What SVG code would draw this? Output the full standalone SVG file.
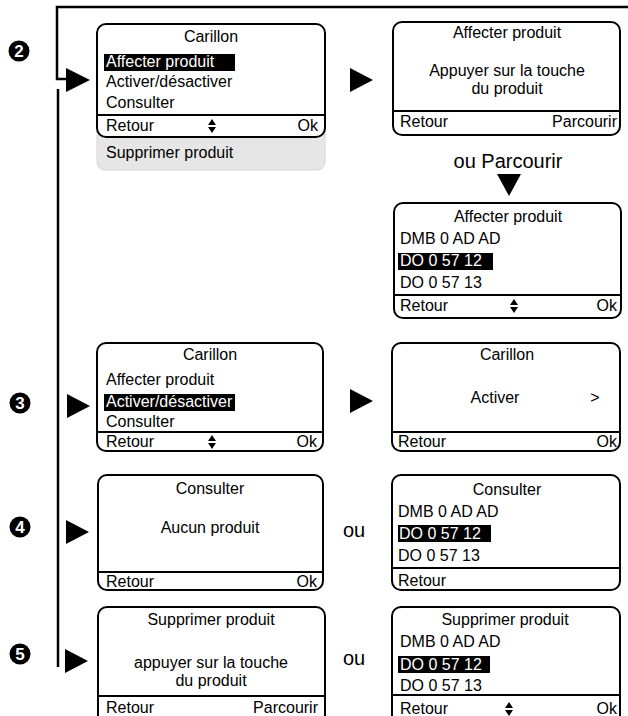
<svg xmlns="http://www.w3.org/2000/svg" width="628" height="716" viewBox="0 0 628 716">
<style>
text{font-family:"Liberation Sans",Arial,sans-serif;font-size:16px;fill:#000}
.c{text-anchor:middle}
.e{text-anchor:end}
.w{fill:#fff}
.box{fill:#fff;stroke:#000;stroke-width:2}
.sep{stroke:#000;stroke-width:2}
.hl{fill:#000}
.tri{fill:#000}
.num{font-size:17px;font-weight:bold;fill:#fff;text-anchor:middle}
.ou{font-size:20px}
.con{fill:none;stroke:#000;stroke-width:2.5}
</style>
<defs>
<g id="ud"><polygon points="-4,-1 4,-1 0,-7"/><polygon points="-4,1 4,1 0,7"/></g>
</defs>

<g id="connectors">
<path class="con" d="M67,79 H57 V7 H628"/>
<line class="con" x1="58" y1="89" x2="58" y2="667"/>
<polygon class="tri" points="66,68 90,80 66,92"/>
<polygon class="tri" points="350,68 373,80 350,92"/>
<polygon class="tri" points="497,174 521,174 509,196"/>
<polygon class="tri" points="67,394 90,406 67,418"/>
<polygon class="tri" points="350,389 373,401 350,413"/>
<polygon class="tri" points="66,520 89,532 66,544"/>
<polygon class="tri" points="65,649 88,661 65,673"/>
</g>

<g id="num2"><circle cx="19" cy="51" r="10.5"/><text class="num" x="19" y="57">2</text></g>
<g id="num3"><circle cx="20" cy="403" r="10.5"/><text class="num" x="20" y="409">3</text></g>
<g id="num4"><circle cx="20" cy="527" r="10.5"/><text class="num" x="20" y="533">4</text></g>
<g id="num5"><circle cx="20" cy="654" r="10.5"/><text class="num" x="20" y="660">5</text></g>

<g id="box-carillon1">
<rect x="97" y="118" width="228" height="52" rx="8" fill="#e6e6e6" stroke="#d6d6d6" stroke-width="1"/>
<rect class="box" x="97" y="24" width="228" height="113" rx="9"/>
<line class="sep" x1="97" y1="115" x2="325" y2="115"/>
<text class="c" x="211" y="42">Carillon</text>
<rect class="hl" x="104" y="54" width="131" height="17"/>
<text class="w" x="106" y="67">Affecter produit</text>
<text x="106" y="87">Activer/désactiver</text>
<text x="106" y="108">Consulter</text>
<text x="106" y="131">Retour</text>
<use href="#ud" x="212" y="126"/>
<text class="e" x="318" y="131">Ok</text>
<text x="106" y="158">Supprimer produit</text>
</g>

<g id="box-affecter1">
<rect class="box" x="393" y="22" width="227" height="113" rx="9"/>
<line class="sep" x1="393" y1="111" x2="620" y2="111"/>
<text class="c" x="507" y="38">Affecter produit</text>
<text class="c" x="507" y="76">Appuyer sur la touche</text>
<text class="c" x="507" y="94">du produit</text>
<text x="400" y="127">Retour</text>
<text class="e" x="617" y="127">Parcourir</text>
</g>

<g id="label-parcourir"><text class="c ou" x="508" y="168">ou Parcourir</text></g>

<g id="box-affecter2">
<rect class="box" x="394" y="203" width="227" height="115" rx="9"/>
<line class="sep" x1="394" y1="295" x2="621" y2="295"/>
<text class="c" x="508" y="222">Affecter produit</text>
<text x="400" y="244">DMB 0 AD AD</text>
<rect class="hl" x="398" y="253" width="95" height="17"/>
<text class="w" x="400" y="266">DO 0 57 12</text>
<text x="400" y="288">DO 0 57 13</text>
<text x="400" y="311">Retour</text>
<use href="#ud" x="514" y="306"/>
<text class="e" x="617" y="311">Ok</text>
</g>

<g id="box-carillon2">
<rect class="box" x="97" y="343" width="226" height="108" rx="9"/>
<line class="sep" x1="97" y1="432" x2="323" y2="432"/>
<text class="c" x="210" y="360">Carillon</text>
<text x="106" y="385">Affecter produit</text>
<rect class="hl" x="104" y="394" width="131" height="17"/>
<text class="w" x="106" y="407">Activer/désactiver</text>
<text x="106" y="427">Consulter</text>
<text x="106" y="447">Retour</text>
<use href="#ud" x="212" y="442"/>
<text class="e" x="317" y="447">Ok</text>
</g>

<g id="box-activer">
<rect class="box" x="392" y="343" width="228" height="108" rx="9"/>
<line class="sep" x1="392" y1="432" x2="620" y2="432"/>
<text class="c" x="507" y="360">Carillon</text>
<text class="c" x="495" y="403">Activer</text>
<text class="c" x="595" y="403">&gt;</text>
<text x="398" y="447">Retour</text>
<text class="e" x="617" y="447">Ok</text>
</g>

<g id="box-consulter1">
<rect class="box" x="98" y="475" width="225" height="115" rx="9"/>
<line class="sep" x1="98" y1="572" x2="323" y2="572"/>
<text class="c" x="210" y="494">Consulter</text>
<text class="c" x="210" y="533">Aucun produit</text>
<text x="106" y="587">Retour</text>
<text class="e" x="317" y="587">Ok</text>
</g>

<g id="label-ou1"><text class="ou" x="343" y="537">ou</text></g>

<g id="box-consulter2">
<rect class="box" x="392" y="475" width="228" height="115" rx="9"/>
<line class="sep" x1="392" y1="568" x2="620" y2="568"/>
<text class="c" x="507" y="495">Consulter</text>
<text x="398" y="517">DMB 0 AD AD</text>
<rect class="hl" x="398" y="525" width="93" height="17"/>
<text class="w" x="399" y="539">DO 0 57 12</text>
<text x="398" y="561">DO 0 57 13</text>
<text x="398" y="586">Retour</text>
</g>

<g id="box-supprimer1">
<rect class="box" x="98" y="607" width="227" height="125" rx="9"/>
<line class="sep" x1="98" y1="696" x2="325" y2="696"/>
<text class="c" x="211" y="625">Supprimer produit</text>
<text class="c" x="211" y="668">appuyer sur la touche</text>
<text class="c" x="211" y="686">du produit</text>
<text x="106" y="713">Retour</text>
<text class="e" x="318" y="713">Parcourir</text>
</g>

<g id="label-ou2"><text class="ou" x="343" y="665">ou</text></g>

<g id="box-supprimer2">
<rect class="box" x="392" y="607" width="228" height="125" rx="9"/>
<line class="sep" x1="392" y1="695" x2="620" y2="695"/>
<text class="c" x="505" y="625">Supprimer produit</text>
<text x="400" y="647">DMB 0 AD AD</text>
<rect class="hl" x="398" y="656" width="92" height="17"/>
<text class="w" x="400" y="670">DO 0 57 12</text>
<text x="400" y="691">DO 0 57 13</text>
<text x="400" y="714">Retour</text>
<use href="#ud" x="509" y="709"/>
<text class="e" x="617" y="714">Ok</text>
</g>
</svg>
